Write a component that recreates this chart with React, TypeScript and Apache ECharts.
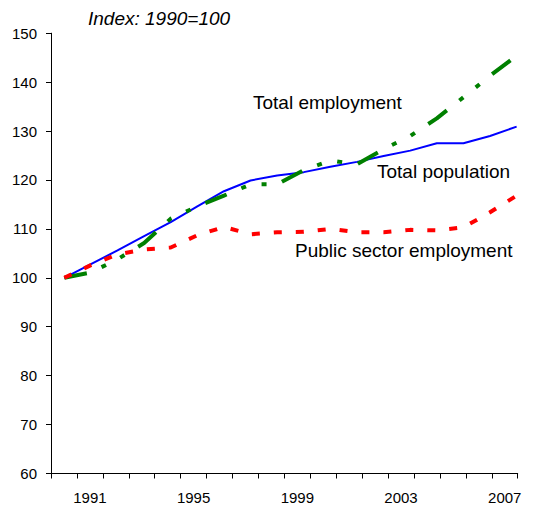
import React, { useEffect, useRef } from "react";
import * as echarts from "echarts";

const years = [1990, 1991, 1992, 1993, 1994, 1995, 1996, 1997, 1998, 1999, 2000, 2001, 2002, 2003, 2004, 2005, 2006, 2007];
const yearLabels = ["1990", "1991", "1992", "1993", "1994", "1995", "1996", "1997", "1998", "1999", "2000", "2001", "2002", "2003", "2004", "2005", "2006", "2007"];
const shownYearLabels = ["1991", "1995", "1999", "2003", "2007"];

const totalPopulation = [100, 102.8, 105.6, 108.5, 111.4, 114.6, 117.7, 119.9, 120.9, 121.6, 122.7, 123.7, 124.9, 126.0, 127.5, 127.5, 129.0, 130.9];
const totalEmployment = [100, 101.1, 103.8, 107.1, 112.1, 114.6, 116.8, 119.1, 119.1, 122.0, 124.0, 123.2, 126.3, 129.0, 132.6, 136.9, 141.3, 145.4];
const publicSectorEmployment = [100, 102.6, 104.8, 105.8, 106.2, 108.7, 110.4, 108.9, 109.3, 109.4, 110.0, 109.3, 109.3, 109.8, 109.7, 110.3, 113.4, 116.8];

const yMin = 60;
const yMax = 150;
const yStep = 10;

const titleText = "Index: 1990=100";
const seriesLabels = ["Total employment", "Total population", "Public sector employment"];

const FONT = "'Liberation Sans', Arial, sans-serif";

export default function App() {
  const ref = useRef<HTMLDivElement>(null);

  useEffect(() => {
    if (!ref.current) return;
    const chart = echarts.init(ref.current, undefined, { renderer: "svg" });
    const pairs = (arr: number[]) => years.map((y, i) => [y, arr[i]]);

    chart.setOption({
      animation: false,
      backgroundColor: "#ffffff",
      grid: { left: 51, right: 15.3, top: 33.2, bottom: 34.5, containLabel: false },
      xAxis: [
        {
          type: "category",
          data: yearLabels,
          boundaryGap: true,
          axisLine: { show: true, lineStyle: { color: "#000", width: 1 } },
          axisTick: { show: true, interval: 0, length: 5, inside: false, lineStyle: { color: "#000" } },
          axisLabel: {
            interval: 0,
            formatter: (v: string) => (shownYearLabels.includes(v) ? v : ""),
            color: "#000",
            fontSize: 15,
            fontFamily: FONT,
            margin: 16,
          },
          splitLine: { show: false },
        },
        {
          type: "value",
          min: 1989.5,
          max: 2007.04,
          show: false,
          splitLine: { show: false },
        },
      ],
      yAxis: {
        type: "value",
        min: yMin,
        max: yMax,
        interval: yStep,
        axisLine: { show: true, lineStyle: { color: "#000", width: 1 } },
        axisTick: { show: true, length: 5, inside: false, lineStyle: { color: "#000" } },
        axisLabel: { color: "#000", fontSize: 15, fontFamily: FONT, margin: 14 },
        splitLine: { show: false },
      },
      series: [
        {
          name: "Total population",
          type: "line",
          xAxisIndex: 1,
          data: pairs(totalPopulation),
          symbol: "none",
          lineStyle: { color: "#0000ff", width: 2, type: "solid" },
          z: 2,
        },
        {
          name: "Total employment",
          type: "line",
          xAxisIndex: 1,
          data: pairs(totalEmployment),
          symbol: "none",
          lineStyle: { color: "#008000", width: 4, type: [23, 16, 5, 16, 5, 16], cap: "butt" },
          z: 3,
        },
        {
          name: "Public sector employment",
          type: "line",
          xAxisIndex: 1,
          data: pairs(publicSectorEmployment),
          symbol: "none",
          lineStyle: { color: "#ff0000", width: 4, type: [8, 14], cap: "butt" },
          z: 4,
        },
      ],
      graphic: [
        {
          type: "text",
          left: 88,
          top: 8.5,
          style: { text: titleText, font: `italic 19px ${FONT}`, fill: "#000" },
        },
        {
          type: "text",
          left: 253,
          top: 92.5,
          style: { text: seriesLabels[0], font: `19px ${FONT}`, fill: "#000" },
        },
        {
          type: "text",
          left: 377,
          top: 161.5,
          style: { text: seriesLabels[1], font: `19px ${FONT}`, fill: "#000" },
        },
        {
          type: "text",
          left: 295,
          top: 240.5,
          style: { text: seriesLabels[2], font: `19px ${FONT}`, fill: "#000" },
        },
      ],
    });
    return () => chart.dispose();
  }, []);

  return (
    <div
      ref={ref}
      style={{ position: "absolute", left: 0, top: 0, width: 533, height: 508 }}
    />
  );
}
